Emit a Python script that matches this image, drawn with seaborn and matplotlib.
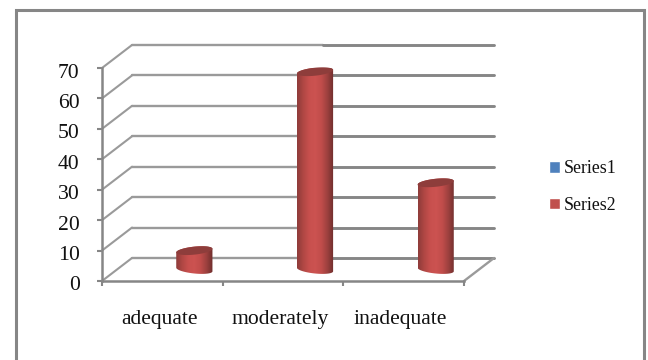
import numpy as np
import pandas as pd
import seaborn as sns
import matplotlib.pyplot as plt
from matplotlib.colors import LinearSegmentedColormap
from matplotlib.patches import Patch, Polygon, Rectangle
from matplotlib.transforms import ScaledTranslation

# values
categories = ['adequate', 'moderately', 'inadequate']
series1 = [np.nan, np.nan, np.nan]
series2 = [6.2, 65, 28.5]
series_names = ['Series1', 'Series2']
y_ticks = [0, 10, 20, 30, 40, 50, 60, 70]

sns.set_theme(style='white')
plt.rcParams['font.family'] = ['Liberation Serif', 'DejaVu Serif']

W, H = 648, 360
fig = plt.figure(figsize=(W / 100, H / 100), dpi=100, facecolor='white')
ax = fig.add_axes([102 / W, 1 - 281 / H, 362 / W, 213 / H])
ax.patch.set_alpha(0)

df = pd.DataFrame({
    'cat': categories * 2,
    'val': series1 + series2,
    'series': [series_names[0]] * 3 + [series_names[1]] * 3,
})
sns.barplot(data=df, x='cat', y='val', hue='series', hue_order=series_names,
            palette=['#4F81BD', '#C0504D'], dodge=False, width=0.3,
            legend=False, ax=ax, zorder=3)

ax.set_xlim(-0.5, 2.5)
ax.set_ylim(0, 70)

# depth of the fake 3d box, in data units
dx = 30 / (362 / 3)
dy = 23 / (213 / 70)
bar_shift = 32 / (362 / 3)
grid_c = '#9a9a9a'
dark_c = '#868686'
split = (323 - 102) / (362 / 3) - 0.5  # lines get heavier from here on

for v in y_ticks:
    ax.plot([-0.5 + dx, split], [v + dy, v + dy], color=grid_c, lw=1.7, clip_on=False, zorder=1)
    ax.plot([split, 2.5 + dx], [v + dy, v + dy], color=dark_c, lw=2.1, clip_on=False, zorder=1)
    ax.plot([-0.5, -0.5 + dx], [v, v + dy], color=grid_c, lw=1.5, clip_on=False, zorder=1)
ax.plot([2.5, 2.5 + dx], [0, dy], color=grid_c, lw=1.7, clip_on=False, zorder=1)

# turn the flat bars into cylinders
cyl = LinearSegmentedColormap.from_list(
    'cyl', ['#8f3c3a', '#b04744', '#c8504e', '#cc5351', '#c04c4a', '#9c403e', '#6f2e2d'])
ry = 4 / (213 / 70)
tilt = 0.6
for bar in ax.patches:
    h = bar.get_height()
    if not np.isfinite(h) or h <= 0:
        continue
    x0 = bar.get_x() + bar_shift
    w = bar.get_width()
    y0 = dy / 2
    y1 = y0 + h
    bar.set_visible(False)
    xc = x0 + w / 2

    t = np.linspace(np.pi, 2 * np.pi, 40)
    low = np.c_[xc + w / 2 * np.cos(t), y0 + ry * np.sin(t) - tilt * np.cos(t)]
    t2 = np.linspace(0, np.pi, 40)
    up = np.c_[xc + w / 2 * np.cos(t2), y1 + ry * np.sin(t2) + tilt * np.cos(t2)]
    outline = Polygon(np.r_[low, up], closed=True, fc='none', ec='none', clip_on=False)
    ax.add_patch(outline)
    im = ax.imshow(np.linspace(0, 1, 64)[None, :], cmap=cyl, aspect='auto', zorder=3,
                   extent=[x0, x0 + w, y0 - 2 * ry, y1 + 2 * ry], clip_on=True)
    im.set_clip_path(outline)

    t3 = np.linspace(0, 2 * np.pi, 80)
    cap = np.c_[xc + w / 2 * np.cos(t3), y1 + ry * np.sin(t3) + tilt * np.cos(t3)]
    ax.add_patch(Polygon(cap, closed=True, fc='#8e3d3b', ec='none', clip_on=False, zorder=4))

ax.set_xlim(-0.5, 2.5)
ax.set_ylim(0, 70)

# axes
sns.despine(ax=ax, top=True, right=True)
for side in ['left', 'bottom']:
    ax.spines[side].set_color(dark_c)
    ax.spines[side].set_linewidth(1.8)
    ax.spines[side].set_zorder(2)
ax.set_xlabel('')
ax.set_ylabel('')
ax.set_yticks(y_ticks)
ax.set_xticks(range(3))
ax.set_xticklabels(categories)
ax.set_xticks([-0.5, 0.5, 1.5, 2.5], minor=True)
ax.tick_params(axis='y', left=True, length=3.6, width=1.5, color=dark_c, pad=12.6,
               labelsize=15.6, labelcolor='#111111')
ax.tick_params(axis='x', which='major', bottom=False, pad=15, labelsize=15.6, labelcolor='#111111')
ax.tick_params(axis='x', which='minor', bottom=True, length=3.6, width=1.5, color=dark_c)

# labels sit a little off from where matplotlib puts them
for lab in ax.get_yticklabels():
    lab.set_transform(lab.get_transform() + ScaledTranslation(0, -2.5 / 100, fig.dpi_scale_trans))
for lab in ax.get_xticklabels():
    lab.set_transform(lab.get_transform() + ScaledTranslation(-3 / 100, 0, fig.dpi_scale_trans))

# legend
handles = [Patch(fc='#4F81BD'), Patch(fc='#C0504D')]
fig.legend(handles, series_names, loc='center left', bbox_to_anchor=(549 / W, 1 - 187 / H),
           frameon=False, fontsize=12.9, handlelength=0.6, handleheight=0.6,
           handletextpad=0.25, labelspacing=1.1, borderpad=0, borderaxespad=0,
           labelcolor='#111111')

# outer chart border, runs off the bottom of the picture
fig.add_artist(Rectangle((16 / W, -0.05), 628 / W, 1.05 - 10 / H, transform=fig.transFigure,
                         fc='none', ec=dark_c, lw=2.2))

fig.savefig('out.png', dpi=100)
